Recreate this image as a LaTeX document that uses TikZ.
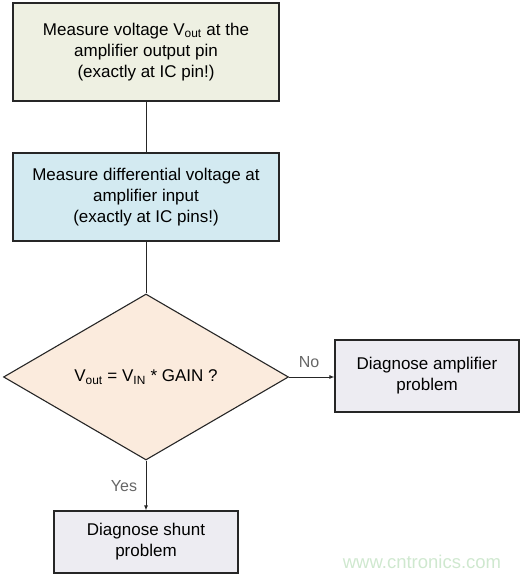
\documentclass[tikz,border=0pt]{standalone}
\usepackage{fontspec}
\setmainfont{Liberation Sans}
\usepackage{xcolor}
\usetikzlibrary{shapes.geometric,arrows.meta}

\definecolor{measgreen}{HTML}{EEF0E2}
\definecolor{measblue}{HTML}{D3EAF1}
\definecolor{checkpeach}{HTML}{FBEBDD}
\definecolor{diaggray}{HTML}{EDECF2}
\definecolor{markgreen}{HTML}{CFE8CF}

\tikzset{
	stepbox/.style={draw=black!85, line width=1.2pt, rectangle, align=center, inner sep=0pt,
		font=\fontsize{17}{21}\selectfont},
	checkbox/.style={draw=black!85, line width=1.1pt, diamond, aspect=1.717, inner sep=0pt,
		font=\fontsize{17}{21}\selectfont},
	link/.style={draw=black!85, line width=0.9pt},
	answer/.style={text=black!60, font=\fontsize{16}{19}\selectfont}
}

\begin{document}
\begin{tikzpicture}[x=1pt,y=1pt]
\useasboundingbox (0,0) rectangle (529,577);

\node[stepbox, fill=measgreen, minimum width=266pt, minimum height=98pt] (outv) at (146,525)
	{Measure voltage V\textsubscript{out} at the\\amplifier output pin\\(exactly at IC pin!)};
\node[stepbox, fill=measblue, minimum width=266pt, minimum height=88pt] (inv) at (146,380)
	{Measure differential voltage at\\amplifier input\\(exactly at IC pins!)};
\node[checkbox, fill=checkpeach, minimum width=285pt, minimum height=166pt] (gain) at (146,200)
	{V\textsubscript{out} = V\textsubscript{IN} * GAIN ?};
\node[stepbox, fill=diaggray, minimum width=184pt, minimum height=72pt] (amp) at (427,201)
	{Diagnose amplifier\\problem};
\node[stepbox, fill=diaggray, minimum width=184pt, minimum height=62pt] (shunt) at (146,35)
	{Diagnose shunt\\problem};

\draw[link] (outv) -- (inv);
\draw[link] (inv) -- (gain);
\draw[link, -{Latex[length=5pt,width=4pt]}] (gain.east) -- (amp.west |- gain.east);
\draw[link, -{Latex[length=5pt,width=4pt]}] (gain.south) -- (shunt.north);

\node[answer] (no) at (309,215) {No};
\node[answer] (yes) at (124,91) {Yes};

\node[text=markgreen, font=\fontsize{18.5}{22}\selectfont] (mark) at (422,15) {www.cntronics.com};
\end{tikzpicture}
\end{document}
